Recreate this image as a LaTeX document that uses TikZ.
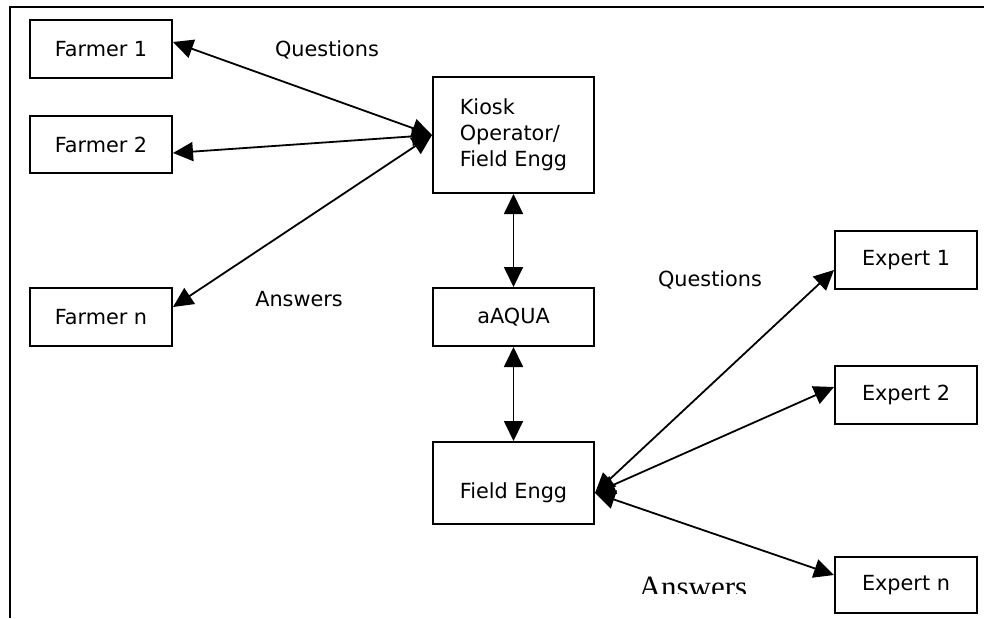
\documentclass[tikz,border=0pt]{standalone}
\usepackage{fontspec}
\setmainfont{DejaVu Sans}
\newfontfamily\serifans{Liberation Serif}
\usetikzlibrary{arrows.meta}
\begin{document}
\begin{tikzpicture}[x=1pt,y=-1pt,
  txt/.style={font=\fontsize{20.8}{26}\selectfont},
  box/.style={draw,line width=2pt,inner sep=0pt,txt},
  lbl/.style={inner sep=0pt,txt},
  conn/.style={line width=1.8pt,{Triangle[length=20pt,width=19pt]}-{Triangle[length=20pt,width=19pt]}}]
\useasboundingbox (0,0) rectangle (984,618);
% frame
\draw[line width=2.6pt] (10,618) -- (10,7) -- (984,7);
% farmers
\node[box,minimum width=142pt,minimum height=58pt] (f1) at (101,49) {Farmer 1};
\node[box,minimum width=142pt,minimum height=57pt] (f2) at (101,144.5) {Farmer 2};
\node[box,minimum width=142pt,minimum height=58pt] (fn) at (101,317) {Farmer n};
% centre column
\node[box,minimum width=161pt,minimum height=116pt,align=left] (kiosk) at (513.5,135) {Kiosk\\Operator/\\Field Engg};
\node[box,minimum width=161pt,minimum height=58pt] (aaqua) at (513.5,317) {aAQUA};
\node[box,minimum width=161pt,minimum height=82pt] (fe) at (513.5,483) {};
\node[lbl] (fetext) at (513.5,493) {Field Engg};
% experts
\node[box,minimum width=142pt,minimum height=58pt] (e1) at (906,260) {Expert 1};
\node[box,minimum width=142pt,minimum height=58pt] (e2) at (906,395) {Expert 2};
\node[box,minimum width=142pt,minimum height=56pt] (en) at (906,585) {Expert n};
% labels
\node[lbl] (q1) at (327,50) {Questions};
\node[lbl] (a1) at (299,299) {Answers};
\node[lbl] (q2) at (710,280) {Questions};
\begin{scope}
\clip (600,560) rectangle (800,593);
\node[inner sep=0pt,anchor=base,font=\serifans\fontsize{31}{36}\selectfont] (a2) at (693,597) {Answers};
\end{scope}
% connectors
\draw[conn] ([yshift=7pt]f1.east) -- (kiosk.west);
\draw[conn] ([yshift=-8.5pt]f2.east) -- (kiosk.west);
\draw[conn] ([yshift=10pt]fn.east) -- (kiosk.west);
\draw[conn] (kiosk.south) -- (aaqua.north);
\draw[conn] (aaqua.south) -- (fe.north);
\draw[conn] ([yshift=-10pt]fe.east) -- ([yshift=-10pt]e1.west);
\draw[conn] ([yshift=-10pt]fe.east) -- ([yshift=8pt]e2.west);
\draw[conn] ([yshift=-10pt]fe.east) -- ([yshift=10pt]en.west);
\end{tikzpicture}
\end{document}
